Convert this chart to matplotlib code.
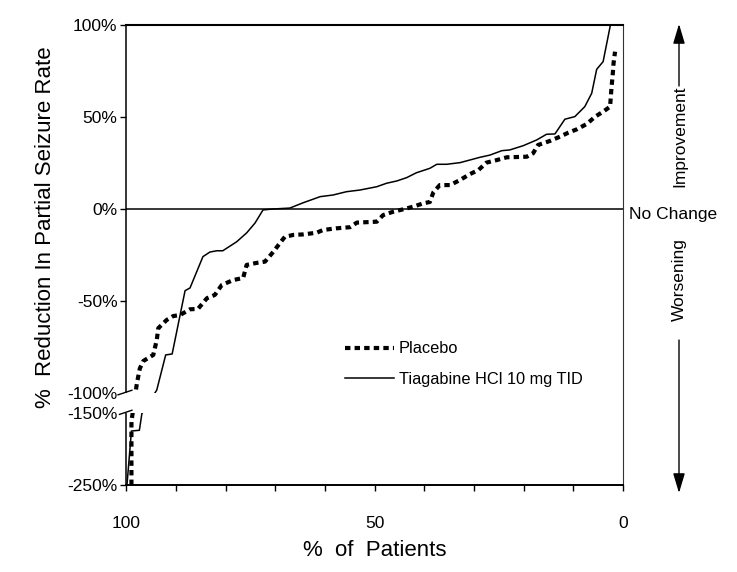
import numpy as np
import matplotlib
matplotlib.use("Agg")
import matplotlib.pyplot as plt
from matplotlib.patches import Rectangle, FancyArrowPatch

plt.rcParams['font.family'] = ['Liberation Sans', 'DejaVu Sans']

# ---- data ----
tia_x = [99.9, 99.0, 97.4, 96.9, 93.9, 92.1, 90.8, 88.2, 87.2, 84.6, 83.2, 81.8, 80.6, 77.8, 75.8,
         74.1, 72.5, 70.5, 67.1, 64.5, 61.0, 58.4, 55.7, 53.0, 49.6, 47.6, 45.6, 43.6, 41.6, 38.9,
         37.5, 35.5, 32.8, 28.8, 26.8, 24.4, 22.8, 20.1, 17.4, 15.4, 13.7, 11.7, 9.7, 7.7, 6.3,
         5.3, 4.0, 2.6, 2.3]
tia_y = [-250, -175, -174, -151, -98.4, -79.3, -78.8, -44.4, -42.9, -25.9, -23.4, -22.7, -22.7, -17.8, -13.0,
         -7.6, -0.5, 0, 0.5, 3.3, 6.7, 7.6, 9.4, 10.3, 12.1, 14.0, 15.2, 17.0, 19.7, 22.1,
         24.3, 24.3, 25.2, 28.1, 29.3, 31.7, 32.1, 34.4, 37.5, 40.6, 40.8, 48.8, 50.2, 55.6, 62.9,
         75.9, 80.1, 99.1, 110]

pla_x = [99.0, 99.0, 97.9, 97.3, 96.6, 94.6, 93.9, 93.6, 91.9, 90.6, 89.2, 87.2, 85.6, 83.8, 82.2,
         80.8, 78.5, 76.5, 75.8, 73.8, 72.1, 70.4, 69.4, 68.1, 66.4, 64.4, 61.7, 60.4, 57.7, 55.0,
         53.6, 49.6, 48.3, 46.3, 44.3, 42.2, 40.2, 38.9, 38.2, 36.9, 34.8, 32.8, 30.8, 29.1, 27.5,
         25.4, 23.4, 19.4, 18.1, 17.1, 14.7, 12.7, 11.0, 9.3, 7.3, 5.6, 4.0, 2.6, 2.3, 2.1, 1.9, 1.6]
pla_y = [-250, -162, -94.7, -86.6, -82.6, -79.3, -71.2, -64.8, -60.3, -58.2, -57.6, -54.5, -54.3, -48.5, -46.7,
         -41.3, -38.6, -37.5, -30.4, -29.3, -28.6, -23.2, -19.6, -15.1, -14.1, -13.8, -12.9, -11.4, -10.5, -9.9,
         -7.4, -6.9, -3.3, -1.5, -0.2, 1.3, 3.1, 3.8, 9.0, 13.0, 13.0, 15.8, 19.0, 21.2, 25.2,
         26.6, 28.1, 28.4, 30.3, 34.8, 37.0, 39.3, 41.5, 43.3, 46.2, 50.2, 52.9, 55.6, 66.5, 71.9, 79.2, 85.5]

y_ticks = [100, 50, 0, -50, -100, -150, -250]
y_ticklabels = ['100%', '50%', '0%', '-50%', '-100%', '-150%', '-250%']
x_ticks = [100, 90, 80, 70, 60, 50, 40, 30, 20, 10, 0]
x_ticklabels = ['100', '', '', '', '', '50', '', '', '', '', '0']

# ---- broken y scale ----
K1 = 0.2174   # compression of the -100..-150 gap
K2 = 0.3913   # compression below -150
G = -100 + (-50) * K1


def fwd(y):
    y = np.asarray(y, dtype=float)
    return np.where(y >= -100, y,
                    np.where(y >= -150, -100 + (y + 100) * K1, G + (y + 150) * K2))


def inv(f):
    f = np.asarray(f, dtype=float)
    return np.where(f >= -100, f,
                    np.where(f >= G, -100 + (f + 100) / K1, -150 + (f - G) / K2))


fig = plt.figure(figsize=(7.37, 5.72), dpi=100)
ax = fig.add_axes([0.1716, 0.1521, 0.6737, 0.8042])
ax.set_yscale('function', functions=(fwd, inv))
ax.set_ylim(-250, 100)
ax.set_xlim(100, 0)

ax.axhline(0, color='black', lw=1.1, zorder=1.5)

l_pla, = ax.plot(pla_x, pla_y, color='black', lw=3.0, linestyle=(0, (1.3, 1.0)),
                 dash_capstyle='butt', label='Placebo', zorder=2)
l_tia, = ax.plot(tia_x, tia_y, color='black', lw=1.1, label='Tiagabine HCl 10 mg TID', zorder=2)

# gap of the broken axis
fb = (float(fwd(-100)) + 150) / 250
fc = (float(fwd(-150)) + 150) / 250
ax.add_patch(Rectangle((-0.01, fc), 1.005, fb - fc, transform=ax.transAxes,
                       facecolor='white', edgecolor='none', zorder=2.6, clip_on=False))
ax.plot([-0.017, 0.011], [fb - 0.004, fb + 0.006], transform=ax.transAxes, color='black',
        lw=1.0, clip_on=False, zorder=3)
ax.plot([-0.014, 0.011], [fc - 0.003, fc + 0.006], transform=ax.transAxes, color='black',
        lw=1.0, clip_on=False, zorder=3)

# spines
for s, w in [('top', 1.5), ('bottom', 1.4), ('left', 1.1), ('right', 0.8)]:
    ax.spines[s].set_linewidth(w)
    ax.spines[s].set_color('black' if s != 'right' else '#333333')

ax.set_yticks(y_ticks)
ax.set_yticklabels(y_ticklabels)
ax.set_xticks(x_ticks)
ax.set_xticklabels(x_ticklabels)
ax.tick_params(axis='y', direction='out', length=4.5, width=1.0, labelsize=12.5, pad=2)
ax.tick_params(axis='x', direction='out', length=4, width=1.0, labelsize=12.5, pad=18)
ax.minorticks_off()
for t, v in zip(ax.yaxis.get_major_ticks(), y_ticks):
    if v in (-100, -150):
        t.tick1line.set_visible(False)

ax.set_xlabel('%  of  Patients', fontsize=16, labelpad=7)
ax.set_ylabel('%  Reduction In Partial Seizure Rate', fontsize=16)
ax.yaxis.set_label_coords(-0.142, 0.56)

ax.legend(handles=[l_pla, l_tia], loc='upper left', bbox_to_anchor=(0.44, 0.312),
          frameon=False, fontsize=11.8, handlelength=3.0, handletextpad=0.3,
          labelspacing=0.95, borderpad=0, borderaxespad=0)

# right-hand annotations
fig.text(0.913, 1 - 214 / 572, 'No Change', fontsize=12.5, ha='center', va='center')
fig.text(0.9225, 1 - 136.5 / 572, 'Improvement', fontsize=12.5, ha='center', va='center', rotation=90)
fig.text(0.9225, 1 - 280 / 572, 'Worsening', fontsize=12.5, ha='center', va='center', rotation=90)
ap = dict(arrowstyle='-|>,head_length=12,head_width=3.6', color='black', lw=1.0,
          shrinkA=0, shrinkB=0, mutation_scale=1)
ax_x = 679 / 737
fig.add_artist(FancyArrowPatch((ax_x, 1 - 86 / 572), (ax_x, 1 - 24 / 572),
                               transform=fig.transFigure, **ap))
fig.add_artist(FancyArrowPatch((ax_x, 1 - 340 / 572), (ax_x, 1 - 493 / 572),
                               transform=fig.transFigure, **ap))

fig.savefig('out.png', dpi=100)
